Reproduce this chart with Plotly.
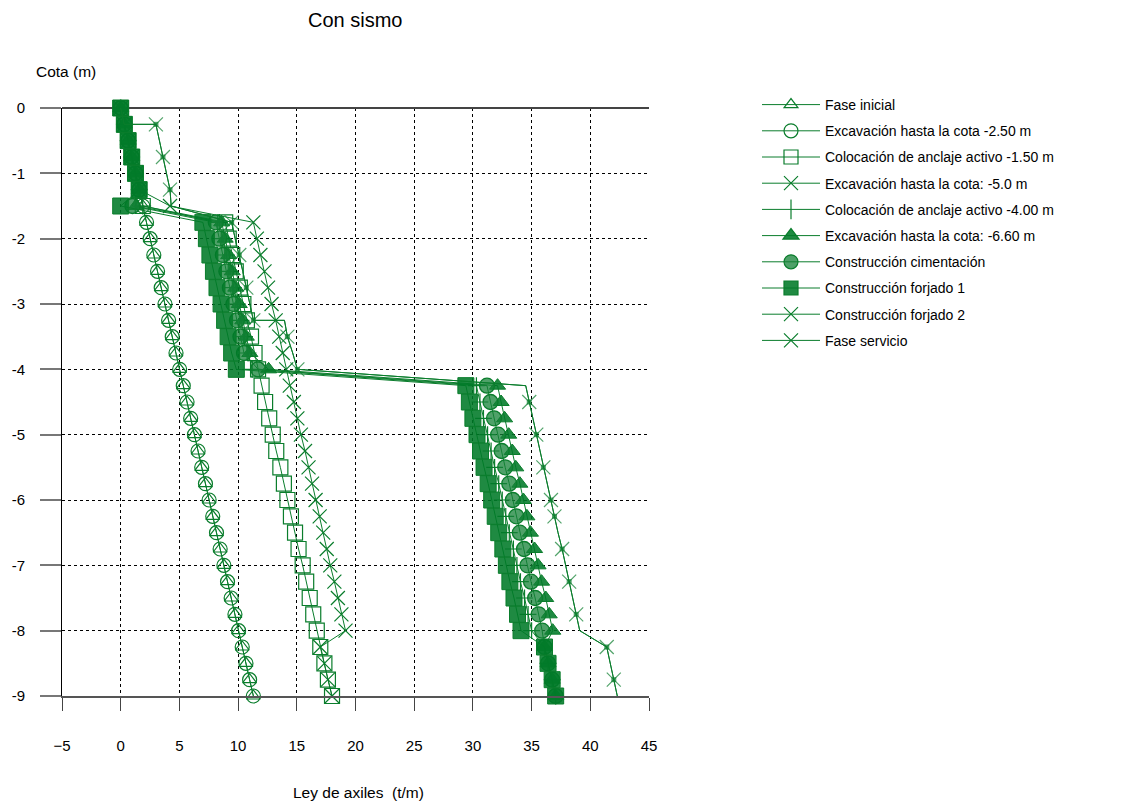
import plotly.graph_objects as go

# ---------------- data ----------------
depth = [0, -0.25, -0.5, -0.75, -1.0, -1.25, -1.5, -1.75, -2.0, -2.25, -2.5, -2.75,
         -3.0, -3.25, -3.5, -3.75, -4.0, -4.25, -4.5, -4.75, -5.0, -5.25, -5.5, -5.75,
         -6.0, -6.25, -6.5, -6.75, -7.0, -7.25, -7.5, -7.75, -8.0, -8.25, -8.5, -8.75, -9.0]

fase_inicial = [0.0, 0.31, 0.63, 0.94, 1.26, 1.57, 1.88, 2.2, 2.51, 2.82, 3.14, 3.45, 3.77,
                4.08, 4.39, 4.71, 5.02, 5.33, 5.65, 5.96, 6.28, 6.59, 6.9, 7.22, 7.53, 7.84,
                8.16, 8.47, 8.79, 9.1, 9.41, 9.73, 10.04, 10.35, 10.67, 10.98, 11.3]
exc_250 = [0.0, 0.31, 0.63, 0.94, 1.26, 1.57, 1.88, 2.2, 2.51, 2.82, 3.14, 3.45, 3.77,
           4.08, 4.39, 4.71, 5.02, 5.33, 5.65, 5.96, 6.28, 6.59, 6.9, 7.22, 7.53, 7.84,
           8.16, 8.47, 8.79, 9.1, 9.41, 9.73, 10.04, 10.35, 10.67, 10.98, 11.3]
anclaje_150 = [0.0, 0.31, 0.63, 0.94, 1.26, 1.57, 1.88, 8.9, 9.2, 9.5, 9.8, 10.15, 10.45,
               10.75, 11.1, 11.4, 11.7, 12.0, 12.3, 12.65, 12.95, 13.25, 13.6, 13.9, 14.2,
               14.5, 14.85, 15.15, 15.5, 15.8, 16.1, 16.4, 16.7, 17.0, 17.35, 17.65, 18.0]
exc_500 = [0.0, 0.31, 0.63, 0.94, 1.26, 1.57, 4.2, 11.3, 11.6, 11.9, 12.25, 12.55, 12.85,
           13.2, 13.5, 13.8, 14.1, 14.4, 14.75, 15.05, 15.35, 15.7, 16.0, 16.3, 16.6,
           16.95, 17.25, 17.55, 17.85, 18.2, 18.5, 18.8, 19.15, 17.0, 17.35, 17.65, 18.0]
anclaje_400 = [0.0, 0.31, 0.63, 0.94, 1.26, 1.57, 1.88, 8.4, 8.7, 9.0, 9.3, 9.6, 9.95,
               10.25, 10.55, 10.85, 11.2, 30.3, 30.6, 30.9, 31.25, 31.55, 31.85, 32.2, 32.5,
               32.8, 33.1, 33.45, 33.75, 34.05, 34.4, 34.7, 35.0, 36.1, 36.4, 36.75, 37.05]
exc_660 = [0.0, 0.31, 0.63, 0.94, 1.26, 1.57, 1.3, 8.6, 8.9, 9.2, 9.5, 9.8, 10.1,
           10.4, 10.7, 11.0, 12.6, 32.1, 32.4, 32.7, 33.05, 33.35, 33.65, 34.0, 34.3,
           34.6, 34.9, 35.25, 35.55, 35.85, 36.2, 36.5, 36.8, 36.1, 36.4, 36.75, 37.05]
cimentacion = [0.0, 0.31, 0.63, 0.94, 1.26, 1.57, 1.0, 8.1, 8.4, 8.7, 9.0, 9.3, 9.6,
               9.9, 10.2, 10.5, 11.7, 31.2, 31.5, 31.8, 32.15, 32.45, 32.75, 33.1, 33.4,
               33.7, 34.0, 34.35, 34.65, 34.95, 35.3, 35.6, 35.9, 36.1, 36.4, 36.75, 37.05]
forjado_1 = [0.0, 0.31, 0.63, 0.94, 1.26, 1.57, 0.0, 7.0, 7.3, 7.6, 7.9, 8.2, 8.55,
             8.85, 9.15, 9.45, 9.85, 29.4, 29.7, 30.0, 30.35, 30.65, 30.95, 31.3, 31.6,
             31.9, 32.2, 32.55, 32.85, 33.15, 33.5, 33.8, 34.1, 36.1, 36.4, 36.75, 37.05]

depth_f2 = [0, -0.25, -0.25, -0.5, -0.75, -1.0, -1.25, -1.5, -1.75, -2.0, -2.25, -2.5,
            -2.75, -3.0, -3.25, -3.25, -3.5, -3.75, -4.0, -4.25, -4.5, -4.75, -5.0, -5.25,
            -5.5, -5.75, -6.0, -6.25, -6.5, -6.75, -7.0, -7.25, -7.5, -7.75, -8.0, -8.25,
            -8.5, -8.75, -9.0]
forjado_2 = [0.0, 0.3, 3.0, 3.3, 3.6, 3.9, 4.2, 4.3, 9.45, 9.75, 10.1, 10.4, 10.7, 11.0,
             11.3, 13.95, 14.2, 14.65, 15.05, 34.5, 34.8, 35.1, 35.4, 35.7, 36.0, 36.35,
             36.65, 36.95, 37.25, 37.6, 37.9, 38.2, 38.5, 38.8, 39.1, 41.4, 41.7, 42.0, 42.3]
servicio = [0.0, 0.3, 3.0, 3.3, 3.6, 3.9, 4.2, 4.3, 9.45, 9.75, 10.1, 10.4, 10.7, 11.0,
            11.3, 13.95, 14.2, 14.65, 15.05, 34.5, 34.8, 35.1, 35.4, 35.7, 36.0, 36.35,
            36.65, 36.95, 37.25, 37.6, 37.9, 38.2, 38.5, 38.8, 39.1, 41.4, 41.7, 42.0, 42.3]

labels = ["Fase inicial",
          "Excavación hasta la cota -2.50 m",
          "Colocación de anclaje activo -1.50 m",
          "Excavación hasta la cota: -5.0 m",
          "Colocación de anclaje activo -4.00 m",
          "Excavación hasta la cota: -6.60 m",
          "Construcción cimentación",
          "Construcción forjado 1",
          "Construcción forjado 2",
          "Fase servicio"]

x_ticks = [-5, 0, 5, 10, 15, 20, 25, 30, 35, 40, 45]
y_ticks = [0, -1, -2, -3, -4, -5, -6, -7, -8, -9]
y_ticktext = ["0", "-1", "-2", "-3", "-4", "-5", "-6", "-7", "-8", "-9"]

# ---------------- style ----------------
G = "#0a7d2c"
GF = "rgba(0,122,40,0.88)"
GC = "rgba(20,130,55,0.75)"
FONT = "Liberation Sans, Arial, sans-serif"

# plot area in page pixels (the page body adds an 8 px offset)
PL, PR, PT, PB = 62, 649, 108, 696
W, H = 1115, 794
OFF = 8


def px_x(px):
    return (px - PL) / (PR - PL)


def px_y(py):
    return (PB - py) / (PB - PT)


f2_marker_idx = set(range(2, 27, 2))
serv_marker_idx = set(range(27, 38, 2))

fig = go.Figure()


def add_series(xv, yv, symbol, size, fill=G, lw=1.2, msize=None):
    fig.add_trace(go.Scatter(
        x=xv, y=yv, mode="lines+markers", showlegend=False, cliponaxis=False,
        line=dict(color=G, width=1),
        marker=dict(symbol=symbol, size=msize if msize is not None else size,
                    color=fill, line=dict(color=G, width=lw)),
        hoverinfo="skip"))


add_series(fase_inicial, depth, "triangle-up-open", 12)
add_series(exc_250, depth, "circle-open", 14)
add_series(anclaje_150, depth, "square-open", 15)
add_series(exc_500, depth, "x-thin-open", 14)
add_series(anclaje_400, depth, "cross-thin-open", 12)
add_series(exc_660, depth, "triangle-up", 14, fill=GF, lw=1)
add_series(cimentacion, depth, "circle", 15, fill=GC, lw=1.3)
add_series(forjado_1, depth, "square", 16, fill=GF, lw=1)

sz_f2 = [14 if i in f2_marker_idx else 0 for i in range(len(depth_f2))]
sz_sv = [14 if i in serv_marker_idx else 0 for i in range(len(depth_f2))]
add_series(forjado_2, depth_f2, "x-thin-open", 14, msize=sz_f2)
add_series(servicio, depth_f2, "x-thin-open", 14, msize=sz_sv)
dot_f2 = [5 if i in f2_marker_idx else 0 for i in range(len(depth_f2))]
dot_sv = [5 if i in serv_marker_idx else 0 for i in range(len(depth_f2))]
for xv, sz in ((forjado_2, dot_f2), (servicio, dot_sv)):
    fig.add_trace(go.Scatter(x=xv, y=depth_f2, mode="markers", showlegend=False,
                             cliponaxis=False, hoverinfo="skip",
                             marker=dict(symbol="square", size=sz, color=G, line=dict(width=0))))

leg_styles = [("triangle-up-open", 12, G), ("circle-open", 14, G), ("square-open", 14, G),
              ("x-thin-open", 14, G), ("line-ns-open", 14, G), ("triangle-up", 14, GF),
              ("circle", 14, GC), ("square", 14, GF), ("x-thin-open", 14, G),
              ("x-thin-open", 14, G)]
for i, (lab, (sym, s, c)) in enumerate(zip(labels, leg_styles)):
    fig.add_trace(go.Scatter(
        x=[None], y=[None], mode="lines+markers", name=lab, legendgroup=str(i),
        line=dict(color=G, width=1),
        marker=dict(symbol=sym, size=s, color=c, line=dict(color=G, width=1.2))))

fig.update_layout(
    width=W, height=H,
    margin=dict(l=PL - OFF, r=W - (PR - OFF), t=PT - OFF, b=H - (PB - OFF), autoexpand=False),
    paper_bgcolor="white", plot_bgcolor="white",
    font=dict(family=FONT, size=15, color="black"),
    legend=dict(x=px_x(757), y=px_y(89), xanchor="left", yanchor="top",
                font=dict(size=14, family=FONT), tracegroupgap=5,
                bgcolor="rgba(0,0,0,0)", itemwidth=58),
    xaxis=dict(range=[-5, 45], tickvals=x_ticks, ticks="outside", ticklen=13,
               tickcolor="#444", tickwidth=1.2, showline=True, linecolor="#555",
               linewidth=1.5, showgrid=True, gridcolor="black", griddash="dot",
               gridwidth=1, zeroline=False, ticklabelstandoff=22,
               tickfont=dict(size=15)),
    yaxis=dict(range=[-9, 0], tickvals=y_ticks, ticktext=y_ticktext, ticks="outside",
               ticklen=21, tickcolor="#777", tickwidth=1.5, showline=True,
               linecolor="black", linewidth=1, showgrid=True, gridcolor="black",
               griddash="dot", gridwidth=1, zeroline=True, zerolinecolor="#444",
               zerolinewidth=1.5, ticklabelstandoff=12, tickfont=dict(size=15)),
    annotations=[
        dict(text="Con sismo", x=px_x(355), y=px_y(8), xref="paper", yref="paper",
             xanchor="center", yanchor="top", showarrow=False, borderpad=0,
             font=dict(size=20, family=FONT)),
        dict(text="Cota (m)", x=px_x(34), y=px_y(71), xref="paper", yref="paper",
             xanchor="left", yanchor="middle", showarrow=False,
             font=dict(size=15.5, family=FONT)),
        dict(text="Ley de axiles\u00a0\u00a0(t/m)", x=px_x(291), y=px_y(792),
             xref="paper", yref="paper", xanchor="left", yanchor="middle",
             showarrow=False, font=dict(size=15.5, family=FONT)),
    ],
)

fig.write_html("out.html")
